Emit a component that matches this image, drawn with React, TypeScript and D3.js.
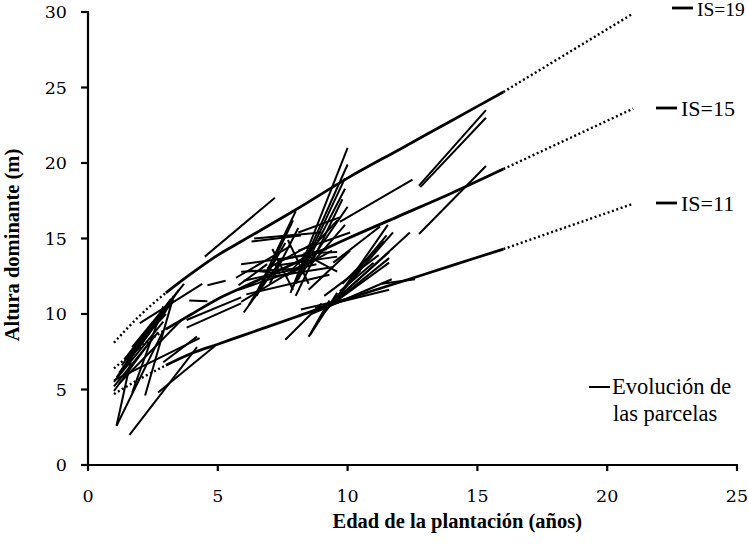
import React from "react";
import * as d3 from "d3";

const W = 748;
const H = 547;

const xTicks = [0, 5, 10, 15, 20, 25];
const yTicks = [0, 5, 10, 15, 20, 25, 30];

const curveAges = [1, 2, 3, 4, 5, 6, 8, 10, 12, 14, 16, 18.5, 21];
const is19 = [8.1, 9.9, 11.4, 12.7, 13.9, 14.9, 16.9, 19.0, 20.9, 22.8, 24.7, 27.3, 29.9];
const is15 = [6.4, 7.8, 9.0, 10.0, 11.0, 11.8, 13.4, 15.0, 16.5, 18.0, 19.6, 21.6, 23.6];
const is11 = [4.7, 5.7, 6.6, 7.4, 8.0, 8.6, 9.8, 11.0, 12.1, 13.2, 14.3, 15.8, 17.3];
const curveLabels = ["IS=19", "IS=15", "IS=11"];

// plot evolution segments: [age0, height0, age1, height1]
const plotSegments = [
  [1.1, 2.6, 1.7, 7.3],
  [1.1, 2.6, 2.9, 8.9],
  [1.6, 2.0, 4.2, 7.8],
  [2.7, 4.8, 4.9, 7.9],
  [2.9, 6.8, 4.2, 8.5],
  [1.0, 4.9, 2.4, 8.2],
  [1.0, 5.2, 2.7, 8.8],
  [1.0, 5.5, 2.9, 9.5],
  [1.1, 5.8, 3.0, 10.2],
  [1.2, 6.1, 3.1, 10.6],
  [1.3, 6.6, 3.2, 11.0],
  [1.4, 7.0, 2.9, 10.3],
  [1.6, 7.4, 3.0, 10.0],
  [1.7, 7.8, 3.7, 12.0],
  [1.9, 7.6, 3.5, 11.6],
  [2.0, 9.4, 4.4, 12.0],
  [1.2, 5.4, 3.6, 9.6],
  [1.0, 5.6, 4.3, 8.4],
  [1.7, 4.8, 2.9, 10.5],
  [2.2, 4.6, 3.3, 11.2],
  [1.5, 6.9, 3.3, 10.9],
  [1.3, 6.3, 2.7, 9.8],
  [3.8, 9.6, 5.9, 11.1],
  [3.8, 9.1, 5.9, 10.7],
  [3.9, 10.9, 4.6, 10.85],
  [4.6, 11.9, 5.3, 12.2],
  [4.5, 13.8, 7.2, 17.7],
  [5.9, 12.8, 8.0, 13.0],
  [5.9, 13.3, 8.5, 13.9],
  [6.0, 12.2, 8.8, 13.3],
  [5.8, 11.6, 7.5, 12.6],
  [6.4, 15.0, 9.0, 15.4],
  [6.3, 14.8, 8.2, 15.2],
  [7.3, 13.5, 9.2, 14.3],
  [5.7, 12.4, 7.8, 14.5],
  [5.9, 10.8, 8.2, 13.2],
  [6.0, 10.1, 7.5, 13.7],
  [6.2, 10.6, 7.6, 14.7],
  [6.5, 11.2, 7.9, 16.2],
  [6.6, 11.8, 8.0, 16.8],
  [7.0, 12.0, 8.1, 15.7],
  [6.8, 12.4, 9.4, 13.1],
  [7.2, 13.2, 9.6, 13.8],
  [6.1, 11.3, 9.3, 12.6],
  [5.8, 11.9, 6.9, 13.3],
  [6.9, 13.0, 8.7, 14.7],
  [6.2, 12.9, 7.4, 12.7],
  [7.6, 8.3, 9.0, 10.7],
  [8.5, 8.5, 9.3, 10.9],
  [7.8, 11.4, 10.0, 21.0],
  [7.9, 11.8, 10.0, 19.9],
  [8.0, 12.0, 9.9, 19.0],
  [8.1, 12.3, 9.9, 18.3],
  [8.0, 11.2, 9.8, 17.6],
  [8.2, 12.6, 10.0, 17.1],
  [7.9, 13.0, 9.6, 16.2],
  [8.5, 13.1, 9.9, 15.9],
  [7.6, 12.5, 9.4, 14.2],
  [8.3, 14.0, 9.6, 14.1],
  [8.1, 15.4, 9.7, 16.4],
  [8.1, 14.2, 10.1, 15.4],
  [7.1, 14.3, 7.9, 11.6],
  [7.7, 14.9, 8.5, 12.0],
  [9.7, 16.1, 12.5, 18.9],
  [12.75, 18.5, 15.33, 23.5],
  [12.8, 18.4, 15.33, 23.0],
  [12.75, 15.3, 15.33, 19.8],
  [9.45, 10.7, 11.55, 15.9],
  [9.4, 10.8, 11.75, 15.4],
  [9.5, 10.9, 11.6, 14.1],
  [9.3, 10.5, 11.6, 13.7],
  [9.2, 10.4, 11.6, 13.4],
  [9.6, 11.0, 12.4, 15.4],
  [8.5, 11.6, 10.1, 14.2],
  [9.45, 13.4, 11.25, 15.8],
  [8.55, 8.6, 9.6, 11.4],
  [8.2, 10.3, 10.2, 11.1],
  [8.75, 10.4, 11.6, 11.6],
  [8.6, 10.0, 11.7, 12.3],
  [9.0, 9.9, 10.5, 12.9],
  [9.1, 11.2, 11.2, 13.9],
  [9.7, 11.5, 11.0, 13.4],
  [9.8, 12.0, 11.4, 14.8],
  [10.1, 12.3, 11.5, 15.2],
  [8.4, 13.9, 9.6, 12.8],
  [11.3, 12.0, 12.6, 12.3],
];

const legendPlots = ["Evolución de", "las parcelas"];

export default function App() {
  const left = 88, right = 737, top = 12, bottom = 465;
  const x = d3.scaleLinear().domain([0, 25]).range([left, right]);
  const y = d3.scaleLinear().domain([0, 30]).range([bottom, top]);
  const line = d3
    .line<[number, number]>()
    .x((d) => x(d[0]))
    .y((d) => y(d[1]))
    .curve(d3.curveMonotoneX);

  const series = [is19, is15, is11];
  const tickFont = "'DejaVu Serif', serif";
  const legendFont = "'Liberation Serif', serif";

  return (
    <svg
      width={W}
      height={H}
      viewBox={`0 0 ${W} ${H}`}
      style={{ position: "absolute", left: 0, top: 0, background: "#fff" }}
    >
      <rect x={0} y={0} width={W} height={H} fill="#fff" />
      {/* plot evolution segments */}
      <g stroke="#000" strokeWidth={2} fill="none" strokeLinecap="butt">
        {plotSegments.map((s, i) => (
          <line key={i} x1={x(s[0])} y1={y(s[1])} x2={x(s[2])} y2={y(s[3])} />
        ))}
      </g>
      {/* site index curves */}
      {series.map((vals, k) => {
        const pts: [number, number][] = curveAges.map((a, i) => [a, vals[i]]);
        const leftPart = pts.filter((p) => p[0] <= 3);
        const mid = pts.filter((p) => p[0] >= 3 && p[0] <= 16);
        const rightPart = pts.filter((p) => p[0] >= 16);
        return (
          <g key={k} fill="none" stroke="#000">
            <path d={line(leftPart) || ""} strokeWidth={2.4} strokeDasharray="2 2.6" />
            <path d={line(mid) || ""} strokeWidth={2.8} />
            <path d={line(rightPart) || ""} strokeWidth={2.4} strokeDasharray="2 2.6" />
          </g>
        );
      })}
      {/* axes */}
      <g stroke="#000" strokeWidth={2.2} fill="none">
        <line x1={left} y1={top - 1} x2={left} y2={bottom + 1} />
        <line x1={left - 1} y1={bottom} x2={right + 1} y2={bottom} />
        {yTicks.map((t) => (
          <line key={"yt" + t} x1={left - 7} x2={left} y1={y(t)} y2={y(t)} />
        ))}
        {xTicks.map((t) => (
          <line key={"xt" + t} x1={x(t)} x2={x(t)} y1={bottom} y2={bottom + 6} />
        ))}
      </g>
      <g fontFamily={tickFont} fontSize={17.5} fill="#000">
        {yTicks.map((t) => (
          <text key={"yl" + t} x={left - 21} y={y(t) + 6.3} textAnchor="end">
            {t}
          </text>
        ))}
        {xTicks.map((t) => (
          <text key={"xl" + t} x={x(t)} y={502} textAnchor="middle">
            {t}
          </text>
        ))}
      </g>
      {/* axis titles */}
      <text
        x={582}
        y={528}
        textAnchor="end"
        fontFamily={legendFont}
        fontWeight="bold"
        fontSize={20.5}
      >
        Edad de la plantación (años)
      </text>
      <text
        transform={`translate(19,${245}) rotate(-90)`}
        textAnchor="middle"
        fontFamily={legendFont}
        fontWeight="bold"
        fontSize={20.5}
      >
        Altura dominante (m)
      </text>
      {/* curve legends */}
      <g fontFamily={legendFont} fill="#000">
        {[
          { lx: 672, ly: 8, fs: 19.5, ty: 16 },
          { lx: 656, ly: 108, fs: 22, ty: 115.5 },
          { lx: 656, ly: 203, fs: 22, ty: 210.5 },
        ].map((p, i) => (
          <g key={i}>
            <line x1={p.lx} x2={p.lx + 21} y1={p.ly} y2={p.ly} stroke="#000" strokeWidth={2.8} />
            <text x={p.lx + 25} y={p.ty} fontSize={p.fs}>
              {curveLabels[i]}
            </text>
          </g>
        ))}
        <line x1={589} x2={610} y1={387} y2={387} stroke="#000" strokeWidth={2} />
        <text x={612} y={394} fontSize={22.5}>
          {legendPlots[0]}
        </text>
        <text x={613} y={421} fontSize={22.5}>
          {legendPlots[1]}
        </text>
      </g>
    </svg>
  );
}
